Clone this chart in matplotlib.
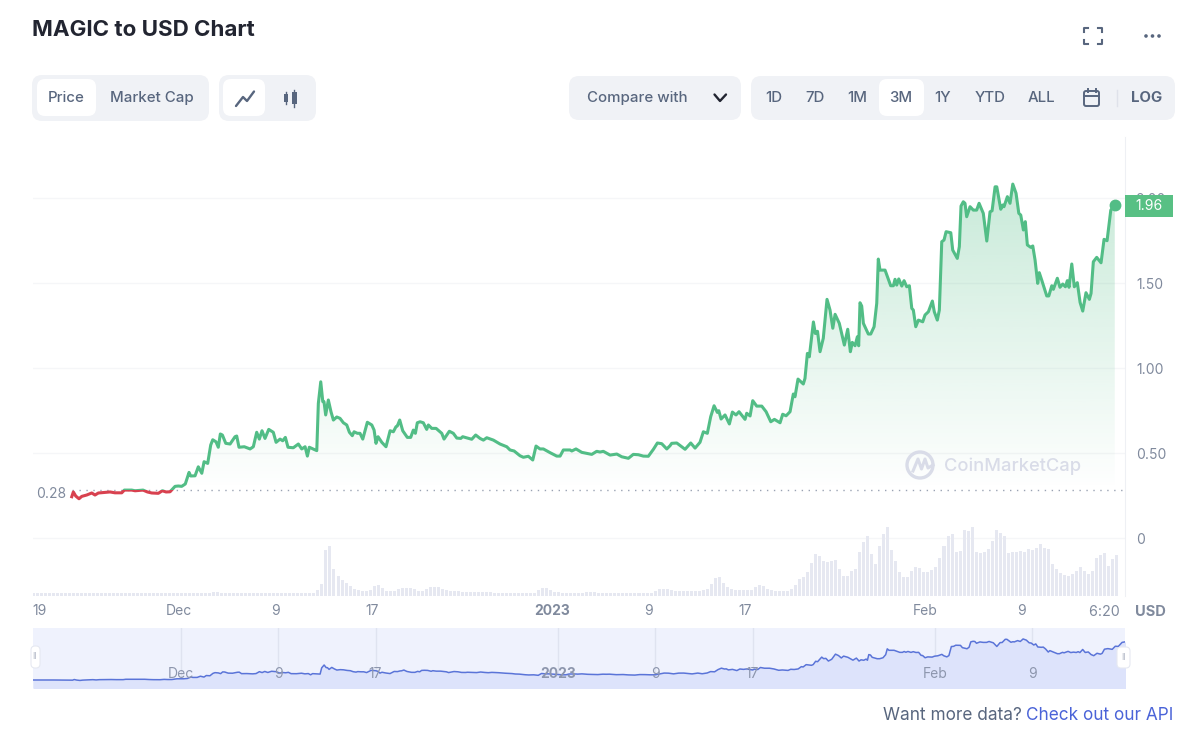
import numpy as np
import matplotlib
matplotlib.use("Agg")
import matplotlib.pyplot as plt
from matplotlib.patches import FancyBboxPatch, Rectangle, Circle, Polygon, Arc
from matplotlib.transforms import Bbox

# days counted from Dec 1
price_days = [
    -8.91, -8.78, -8.58, -8.31, -8.08, -7.67, -7.25, -6.98, -6.70, -5.73,
    -5.32, -4.76, -4.54, -3.93, -3.65, -2.99, -2.63, -2.27, -1.72, -1.39,
    -1.08, -0.75, -0.33, -0.06, 0.22, 0.52, 0.83, 0.97, 1.33, 1.60,
    1.89, 2.08, 2.38, 2.63, 2.80, 3.07, 3.26, 3.43, 3.60, 3.88,
    4.24, 4.65, 4.79, 4.98, 5.42, 5.90, 6.17, 6.45, 6.67, 6.89,
    7.14, 7.45, 7.83, 8.06, 8.39, 8.61, 8.83, 9.05, 9.49, 9.91,
    10.19, 10.47, 10.66, 10.82, 11.44, 11.57, 11.77, 11.94, 12.04, 12.18,
    12.40, 12.62, 12.82, 13.10, 13.37, 13.65, 13.93, 14.15, 14.39, 14.54,
    14.81, 15.03, 15.26, 15.64, 16.01, 16.20, 16.36, 16.53, 16.84, 17.19,
    17.53, 17.80, 18.02, 18.13, 18.33, 18.58, 18.96, 19.24, 19.46, 19.63,
    19.79, 20.02, 20.29, 20.57, 20.71, 20.99, 21.35, 21.82, 22.01, 22.45,
    22.78, 23.07, 23.40, 23.56, 24.31, 24.64, 25.00, 25.28, 25.56, 26.11,
    26.66, 27.22, 27.49, 27.83, 28.32, 28.60, 29.01, 29.38, 29.65, 29.98,
    30.26, 30.82, 31.37, 31.65, 31.92, 32.48, 32.62, 32.97, 33.45, 34.28,
    34.69, 34.97, 35.24, 35.80, 36.36, 36.77, 37.32, 37.73, 38.15, 38.56,
    38.98, 39.40, 39.73, 40.09, 40.51, 40.78, 40.92, 41.34, 42.03, 42.50,
    42.86, 43.27, 43.55, 43.88, 44.16, 44.44, 44.71, 44.83, 45.02, 45.35,
    45.71, 45.96, 46.26, 46.51, 47.01, 47.15, 47.43, 47.65, 47.98, 48.40,
    48.76, 49.15, 49.45, 49.92, 50.14, 50.42, 50.75, 51.02, 51.16, 51.41,
    51.85, 51.99, 52.19, 52.35, 52.69, 52.85, 53.03, 53.24, 53.51, 53.82,
    54.07, 54.30, 54.49, 54.84, 55.26, 55.54, 55.76, 55.92, 56.15, 56.34,
    56.45, 56.56, 56.70, 56.84, 57.25, 57.45, 57.73, 57.95, 58.08, 58.22,
    58.64, 59.11, 59.33, 59.47, 59.61, 59.78, 60.03, 60.22, 60.44, 60.66,
    60.86, 60.99, 61.19, 61.41, 61.77, 61.96, 62.24, 62.57, 62.73, 62.98,
    63.15, 63.35, 63.54, 63.71, 64.10, 64.26, 64.64, 64.81, 64.95, 65.14,
    65.28, 65.42, 65.70, 65.97, 66.25, 66.45, 66.80, 67.09, 67.36, 67.53,
    67.78, 67.92, 68.25, 68.42, 68.52, 68.80, 69.02, 69.25, 69.52, 69.75,
    69.91, 70.13, 70.29, 70.46, 70.74, 70.91, 71.10, 71.32, 71.45, 71.65,
    72.07, 72.24, 72.49, 72.62, 72.95, 73.17, 73.40, 73.62, 73.78, 73.92,
    74.15, 74.36, 74.61, 74.84, 75.06, 75.33, 75.61, 75.75, 75.94, 76.22,
    76.58, 76.83, 77.08, 77.39, 77.72,
]
price_values = [
    .243, .271, .247, .231, .245, .253, .265, .253, .265, .271,
    .266, .266, .282, .282, .278, .282, .271, .265, .263, .278,
    .271, .272, .304, .306, .304, .318, .386, .365, .366, .419,
    .381, .449, .439, .547, .578, .566, .534, .612, .606, .557,
    .553, .596, .600, .534, .537, .524, .537, .622, .582, .631,
    .586, .639, .622, .563, .582, .572, .592, .534, .531, .553,
    .524, .537, .482, .534, .514, .792, .919, .802, .802, .724,
    .812, .743, .694, .712, .704, .678, .665, .622, .602, .625,
    .616, .616, .582, .681, .665, .635, .557, .596, .563, .537,
    .631, .625, .655, .659, .694, .631, .592, .592, .635, .616,
    .678, .684, .678, .639, .665, .645, .645, .616, .582, .628,
    .616, .588, .586, .596, .581, .606, .586, .576, .590, .576,
    .553, .537, .518, .512, .484, .475, .481, .459, .541, .524,
    .524, .502, .482, .482, .518, .518, .512, .524, .504, .492,
    .510, .506, .510, .488, .494, .478, .469, .492, .490, .482,
    .481, .522, .559, .555, .524, .543, .557, .559, .522, .559,
    .529, .563, .625, .616, .714, .778, .739, .749, .700, .724,
    .671, .741, .724, .743, .698, .734, .718, .808, .776, .776,
    .743, .684, .698, .678, .728, .719, .743, .847, .831, .935,
    .906, .939, 1.086, 1.066, 1.271, 1.203, 1.216, 1.096, 1.175, 1.404,
    1.341, 1.234, 1.316, 1.263, 1.135, 1.228, 1.096, 1.151, 1.131, 1.184,
    1.131, 1.384, 1.365, 1.263, 1.200, 1.200, 1.243, 1.381, 1.641, 1.576,
    1.576, 1.484, 1.484, 1.522, 1.488, 1.524, 1.482, 1.514, 1.478, 1.484,
    1.351, 1.341, 1.243, 1.282, 1.272, 1.312, 1.331, 1.394, 1.331, 1.282,
    1.341, 1.743, 1.753, 1.802, 1.796, 1.694, 1.645, 1.714, 1.953, 1.978,
    1.969, 1.890, 1.949, 1.929, 1.929, 1.969, 1.910, 1.747, 1.919, 1.925,
    2.066, 2.066, 1.934, 1.959, 1.949, 2.008, 1.969, 2.082, 2.028, 1.910,
    1.900, 1.812, 1.861, 1.724, 1.710, 1.718, 1.635, 1.498, 1.561, 1.518,
    1.424, 1.424, 1.484, 1.463, 1.528, 1.475, 1.494, 1.478, 1.514, 1.475,
    1.612, 1.478, 1.502, 1.386, 1.335, 1.443, 1.404, 1.439, 1.625, 1.651,
    1.619, 1.757, 1.749, 1.929, 1.960,
]
# the overview strip starts a bit earlier than the main line
overview_days_before = [-12.17, -10.5]
overview_values_before = [.25, .25]

# one bar per 8 hours, relative volume
volume_values = [
    3, 3, 3, 3, 3, 3, 3, 3, 3, 3, 3, 3, 3, 3, 3, 3, 3, 3, 3, 3,
    3, 3, 3, 3, 3, 3, 3, 3, 3, 3, 3, 3, 3, 3, 3, 3, 3, 3, 3, 3,
    3, 3, 3, 3.5, 3.5, 4, 4, 3.5, 3, 3, 3, 3, 3, 3, 3, 3, 3, 3, 3,
    3.5, 3.5, 3.5, 3, 3, 3, 3, 3, 3, 3, 3, 3,
    6, 12, 46, 50, 27, 20, 16, 13, 10, 7, 6, 5.5, 5.5, 6, 10, 11, 8, 5, 5, 5,
    7, 8, 8.5, 8, 7, 5, 5, 7, 9, 9, 9, 7, 6, 5,
    5, 5, 4.5, 4.5, 4.5, 4, 4, 4, 4, 4, 3.5, 3.5, 3.5, 3.5, 3.5, 3.5, 3.5, 3.5, 3.5, 3.5, 3.5,
    6, 8, 8, 6,
    4, 4, 3.5, 3.5, 3.5, 3.5, 3.5, 3.5, 4, 4, 4, 3.5, 3.5, 3.5, 3.5, 3.5, 3.5, 3.5, 3.5, 3, 3, 3,
    3, 3, 3,
    5, 7, 7, 7, 6, 5, 5, 5, 5, 5, 5, 5, 6, 7, 12, 18, 19, 13, 9, 7,
    6, 6, 6, 6, 6, 9, 11, 10, 7, 6, 5, 5, 5, 5, 7, 11, 17, 19, 24, 33,
    42, 40, 35, 34, 35, 36, 27, 20, 20, 25, 27, 44, 54, 60, 42, 32, 50, 62, 69, 46,
    35, 24, 19, 19, 25, 29, 28, 24, 24, 26, 29, 38, 50, 60, 62, 44, 45, 66, 65, 69,
    44, 43, 44, 47, 55, 66, 63, 60, 43, 44, 44, 45, 44, 47, 46, 48, 52, 48, 47, 32,
    27, 23, 21, 20, 22, 25, 29, 25, 22, 25, 38, 41, 43, 30, 37, 41,
]
volume_start_day = -12.13

x_tick_days = [-11.6, 0, 8, 16, 31, 39, 47, 62, 70]
x_tick_labels = ["19", "Dec", "9", "17", "2023", "9", "17", "Feb", "9"]
y_ticks = [0, 0.5, 1.0, 1.5, 2.0]
y_tick_labels = ["0", "0.50", "1.00", "1.50", "2.00"]
overview_tick_days = [0, 8, 16, 31, 39, 47, 62, 70]
overview_tick_labels = ["Dec", "9", "17", "2023", "9", "17", "Feb", "9"]
open_price = 0.28
last_price = 1.96

range_labels = ["1D", "7D", "1M", "3M", "1Y", "YTD", "ALL"]
range_centers = [774, 815, 857, 901, 943, 990.5, 1041.5]

GREEN = "#52bd86"
RED = "#d8414f"
GREY = "#808a9d"
BTN = "#f0f2f6"
TXT = "#58667e"
WIDTH, HEIGHT = 1200, 740

plt.rcParams["font.family"] = ["Inter", "DejaVu Sans"]

fig = plt.figure(figsize=(WIDTH / 100, HEIGHT / 100), dpi=100, facecolor="white")


def px_axes(left, top, right, bottom, **kw):
    return fig.add_axes([left / WIDTH, 1 - bottom / HEIGHT, (right - left) / WIDTH, (bottom - top) / HEIGHT], **kw)


days = np.array(price_days)
prices = np.array(price_values)

# main price chart, scales fitted to the gridlines of the reference
ax = px_axes(33, 137, 1125, 596)
ax.patch.set_visible(False)
xlim = (-12.13, 78.57)
ylim = (-0.341, 2.359)
ax.set_xlim(xlim)
ax.set_ylim(ylim)
for s in ax.spines.values():
    s.set_visible(False)
ax.spines["right"].set_visible(True)
ax.spines["right"].set_color("#eef0f4")
ax.set_xticks([])
ax.yaxis.tick_right()
ax.set_yticks(y_ticks, y_tick_labels, fontsize=10, color=GREY)
ax.tick_params(axis="y", length=0, pad=8)
ax.grid(axis="y", color="#f5f6f8", lw=1)
ax.set_axisbelow(True)

# gradient under the line
grad = np.zeros((256, 1, 4))
grad[..., :3] = matplotlib.colors.to_rgb(GREEN)
grad[..., 3] = np.linspace(0.32, 0.0, 256)[:, None]
im = ax.imshow(grad, extent=(days[0], days[-1], open_price, 2.1), aspect="auto", origin="upper", zorder=1)
clip_poly = Polygon(
    np.vstack([[days[0], open_price], np.column_stack([days, np.maximum(prices, open_price)]), [days[-1], open_price]]),
    transform=ax.transData,
)
im.set_clip_path(clip_poly)
ax.set_xlim(xlim)
ax.set_ylim(ylim)

ax.plot([days[0], xlim[1]], [open_price, open_price], color="#9aa3b3", lw=1, ls=(0, (1, 4)), zorder=2)

up_line, = ax.plot(days, prices, color=GREEN, lw=2.2, zorder=3, solid_joinstyle="round")
up_line.set_clip_path(Rectangle((xlim[0], open_price), xlim[1] - xlim[0], 3, transform=ax.transData))
down_line, = ax.plot(days, prices, color=RED, lw=2.2, zorder=3, solid_joinstyle="round")
down_line.set_clip_path(Rectangle((xlim[0], -1), xlim[1] - xlim[0], 1 + open_price, transform=ax.transData))
ax.plot(days[-1], prices[-1], "o", color=GREEN, ms=7.5, zorder=4)

# volume bars share the time axis
ax_vol = px_axes(33, 527, 1125, 596)
ax_vol.patch.set_visible(False)
vol_days = volume_start_day + np.arange(len(volume_values)) / 3
ax_vol.bar(vol_days, volume_values, width=0.25, color="#e6e8f1", align="center")
ax_vol.set_xlim(xlim)
ax_vol.set_ylim(0, 69)
ax_vol.set_yticks([])
for s in ax_vol.spines.values():
    s.set_visible(False)
ax_vol.set_xticks(x_tick_days, x_tick_labels, fontsize=10, color=GREY)
ax_vol.tick_params(axis="x", length=0, pad=6)
ax_vol.get_xticklabels()[4].set_fontweight("bold")

# overview strip
ax_nav = px_axes(33, 628, 1125, 688)
ax_nav.set_facecolor("#eff2fd")
nav_xlim = (-12.17, 77.63)
nav_days = np.concatenate([overview_days_before, days])
nav_values = np.concatenate([overview_values_before, prices])
ax_nav.fill_between(nav_days, nav_values, -0.2, color="#dde3fb", lw=0)
ax_nav.plot(nav_days, nav_values, color="#5a74d8", lw=1.1)
ax_nav.set_xlim(nav_xlim)
ax_nav.set_ylim(-0.107, 2.571)
ax_nav.set_xticks([])
ax_nav.set_yticks([])
for s in ax_nav.spines.values():
    s.set_visible(False)
for d, lab in zip(overview_tick_days, overview_tick_labels):
    ax_nav.axvline(d, color="#dfe3f0", lw=1, zorder=0.5)
    ax_nav.text(d, 0.233, lab, transform=ax_nav.get_xaxis_transform(), ha="center", va="center",
                fontsize=10, color="#8d96ad", fontweight="bold" if lab == "2023" else "normal")

# page chrome in pixel coordinates
ui = fig.add_axes([0, 0, 1, 1], zorder=5)
ui.patch.set_visible(False)
ui.set_xlim(0, WIDTH)
ui.set_ylim(HEIGHT, 0)
ui.axis("off")


def box(x0, y0, x1, y1, color, r=10, edge="none"):
    ui.add_patch(FancyBboxPatch((x0 + r, y0 + r), x1 - x0 - 2 * r, y1 - y0 - 2 * r,
                                boxstyle=f"round,pad={r},rounding_size={r}", fc=color, ec=edge, lw=0.8))


def label(x, y, s, size=10.8, color=TXT, ha="center", weight="medium"):
    return ui.text(x, y, s, fontsize=size, color=color, ha=ha, va="center", fontweight=weight)


ui.text(32, 30.5, "MAGIC to USD Chart", fontsize=16.1, fontweight="bold", color="#222531", ha="left", va="center")

box(32, 75, 209, 121, BTN)
box(37, 79, 96, 116, "white", 8)
label(66, 98, "Price")
label(152, 98, "Market Cap")

box(219, 75, 316, 121, BTN)
box(223, 79, 265, 116, "white", 8)
ui.plot([236, 243, 247, 254], [106, 97, 101, 91.5], color=TXT, lw=1.7, solid_capstyle="round", solid_joinstyle="round")
ui.plot([285.5, 285.5], [92, 104], color=TXT, lw=1)
ui.add_patch(Rectangle((283.5, 94), 4, 8, fc=TXT, ec="none"))
ui.plot([294, 294], [89.5, 106.5], color=TXT, lw=1)
ui.add_patch(Rectangle((291.5, 92), 5, 12, fc=TXT, ec="none"))

box(569, 76, 741, 120, BTN)
label(637, 98, "Compare with")
ui.plot([714.5, 720, 726], [94.5, 101, 94.5], color="#222531", lw=1.7, solid_capstyle="round", solid_joinstyle="round")

box(751, 76, 1175, 120, BTN)
box(879, 79, 924, 116, "white", 8)
for cx, lab in zip(range_centers, range_labels):
    label(cx, 98, lab)
label(1147, 97.5, "LOG", weight="bold")
ui.plot([1117, 1117], [90, 106], color="#dfe2ea", lw=1)

# calendar icon
ui.add_patch(FancyBboxPatch((1084, 91), 15, 15, boxstyle="round,pad=0,rounding_size=2", fc="none", ec=TXT, lw=1.4))
ui.plot([1084, 1099], [95.5, 95.5], color=TXT, lw=1.4)
ui.plot([1087.5, 1087.5], [88.5, 92], color=TXT, lw=1.4)
ui.plot([1095.5, 1095.5], [88.5, 92], color=TXT, lw=1.4)

# fullscreen icon and dots
for sx, x0 in ((1, 1084), (-1, 1102)):
    for sy, y0 in ((1, 28), (-1, 44)):
        ui.plot([x0 + sx * 4, x0, x0], [y0, y0, y0 + sy * 4], color=TXT, lw=1.5)
for cx in (1146, 1152.5, 1159):
    ui.add_patch(Circle((cx, 36), 1.8, fc=TXT, ec="none"))

# opening price label, last price tag, units
label(51, 494, "0.28", size=10, color=GREY, weight="normal")
ui.add_patch(Rectangle((1125, 195), 48, 22, fc="#58c084", ec="none"))
label(1149, 206, f"{last_price:.2f}", size=10, color="white", weight="normal")
label(1150.5, 612.5, "USD", size=10.5, color=GREY, weight="bold")
# the axis cuts this label off at its right edge
time_label = ui.text(1089, 612.5, "6:20 P", fontsize=10.3, color=GREY, ha="left", va="center")
time_label.set_clip_box(Bbox([[0, 0], [1125, HEIGHT]]))
time_label.set_clip_on(True)

# watermark
WM = "#d9dce8"
ui.add_patch(Arc((920, 465), 26, 26, theta1=0, theta2=360, ec=WM, lw=2.4))
ui.plot([913, 918, 921.5, 925, 928, 933], [471, 459, 469, 459, 468, 465], color=WM, lw=2.2, solid_joinstyle="round")
ui.text(944, 466, "CoinMarketCap", fontsize=13.2, color=WM, ha="left", va="center", fontweight="medium")

# overview handles
box(31, 646, 40, 668, "white", 4, edge="#e6e9f2")
ui.text(35, 656.5, "II", fontsize=6.5, color="#b4bac8", ha="center", va="center")
box(1117, 647, 1130, 668, "white", 4, edge="#e6e9f2")
ui.text(1123.5, 657, "II", fontsize=6.5, color="#b4bac8", ha="center", va="center")

ui.text(883, 715, "Want more data?", fontsize=12.4, color=TXT, ha="left", va="center")
ui.text(1026, 715, "Check out our API", fontsize=12.4, color="#4a63d8", ha="left", va="center")

fig.savefig("out.png", dpi=100)
